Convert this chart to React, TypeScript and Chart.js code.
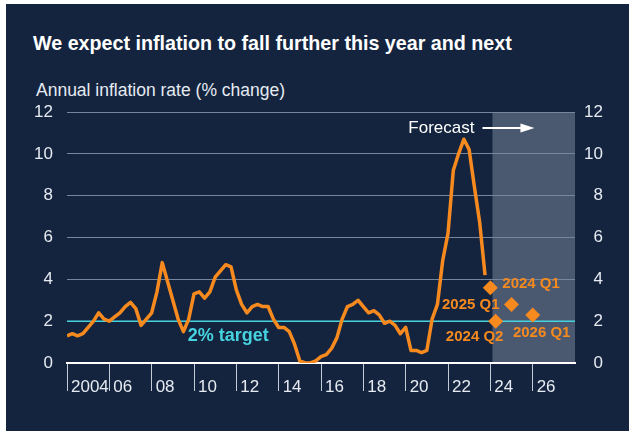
import React, { useEffect, useRef } from 'react';
import { Chart, registerables } from 'chart.js';

Chart.register(...registerables);

// ---------- data ----------
const START_YEAR = 2004; // first quarter of the series: 2004 Q1
const CPI = [
  1.3, 1.4, 1.3, 1.4,
  1.7, 2.0, 2.4, 2.1,
  2.0, 2.2, 2.4, 2.7,
  2.9, 2.6, 1.8, 2.1,
  2.4, 3.4, 4.8, 3.9,
  3.0, 2.1, 1.5, 2.1,
  3.3, 3.4, 3.1, 3.4,
  4.1, 4.4, 4.7, 4.6,
  3.5, 2.8, 2.4, 2.7,
  2.8, 2.7, 2.7, 2.1,
  1.7, 1.7, 1.5, 0.9,
  0.1, 0.0, 0.0, 0.1,
  0.3, 0.4, 0.7, 1.2,
  2.1, 2.7, 2.8, 3.0,
  2.7, 2.4, 2.5, 2.3,
  1.9, 2.0, 1.8, 1.4,
  1.7, 0.6, 0.6, 0.5,
  0.6, 2.1, 2.8, 4.9,
  6.2, 9.2, 10.0, 10.7,
  10.2, 8.4, 6.7, 4.2,
];
const FORECAST_LABELS = ['2024 Q1', '2024 Q2', '2025 Q1', '2026 Q1'];
const FORECAST_X = [2024.0, 2024.25, 2025.0, 2026.0];
const FORECAST_VALUES = [3.6, 2.0, 2.8, 2.3];
const TARGET = 2;
const TARGET_LABEL = '2% target';
const FORECAST_TEXT = 'Forecast';
const FORECAST_START = 2024.1;
const X_MIN = 2004;
const X_MAX = 2028;
const X_TICK_YEARS = [2004, 2006, 2008, 2010, 2012, 2014, 2016, 2018, 2020, 2022, 2024, 2026];
const X_TICK_LABELS = ['2004', '06', '08', '10', '12', '14', '16', '18', '20', '22', '24', '26'];
const Y_MIN = 0;
const Y_MAX = 12;
const Y_STEP = 2;
const TITLE = 'We expect inflation to fall further this year and next';
const SUBTITLE = 'Annual inflation rate (% change)';

// ---------- style ----------
const NAVY = '#14243e';
const SHADE = '#4a5970';
const GRID = '#76869d';
const ORANGE = '#f68a1f';
const CYAN = '#46d3df';
const TEXT = '#e6ebf2';
const FONT = '"Liberation Sans", Arial, Helvetica, sans-serif';

// label offsets (px) relative to each forecast diamond
const LABEL_LAYOUT = [
  { dx: 12, dy: -4, align: 'left' },
  { dx: -21, dy: 16, align: 'center' },
  { dx: -12, dy: 0, align: 'right' },
  { dx: 9, dy: 18, align: 'center' },
];

export default function App() {
  const ref = useRef<HTMLCanvasElement>(null);

  useEffect(() => {
    const canvas = ref.current;
    if (!canvas) return;

    const lineData = CPI.map((v, i) => ({ x: START_YEAR + i / 4, y: v }));
    const fcData = FORECAST_X.map((x, i) => ({ x, y: FORECAST_VALUES[i] }));
    const targetData = [
      { x: X_MIN, y: TARGET },
      { x: X_MAX, y: TARGET },
    ];

    const annotations = {
      id: 'annotations',
      beforeDraw(chart: any) {
        const { ctx, chartArea, scales } = chart;
        const x0 = scales.x.getPixelForValue(FORECAST_START);
        ctx.save();
        ctx.fillStyle = SHADE;
        ctx.fillRect(x0, chartArea.top, chartArea.right - x0, chartArea.bottom - chartArea.top);
        ctx.restore();
      },
      afterDatasetsDraw(chart: any) {
        const { ctx, chartArea, scales } = chart;
        const xs = scales.x;
        const ys = scales.y;
        ctx.save();
        // Forecast text + arrow
        const x0 = xs.getPixelForValue(FORECAST_START);
        const fy = chartArea.top + 16;
        ctx.font = `17px ${FONT}`;
        ctx.fillStyle = '#ffffff';
        ctx.textAlign = 'right';
        ctx.textBaseline = 'middle';
        ctx.fillText(FORECAST_TEXT, x0 - 18, fy);
        ctx.strokeStyle = '#ffffff';
        ctx.lineWidth = 2;
        ctx.beginPath();
        ctx.moveTo(x0 - 10, fy);
        ctx.lineTo(x0 + 32, fy);
        ctx.stroke();
        ctx.beginPath();
        ctx.moveTo(x0 + 42, fy);
        ctx.lineTo(x0 + 28, fy - 4.5);
        ctx.lineTo(x0 + 28, fy + 4.5);
        ctx.closePath();
        ctx.fillStyle = '#ffffff';
        ctx.fill();

        // 2% target
        ctx.font = `bold 18px ${FONT}`;
        ctx.fillStyle = CYAN;
        ctx.textAlign = 'left';
        ctx.fillText(TARGET_LABEL, xs.getPixelForValue(2009.7), ys.getPixelForValue(TARGET) + 15);

        // forecast labels
        ctx.font = `bold 15px ${FONT}`;
        ctx.fillStyle = ORANGE;
        FORECAST_LABELS.forEach((lab, i) => {
          const px = xs.getPixelForValue(FORECAST_X[i]);
          const py = ys.getPixelForValue(FORECAST_VALUES[i]);
          const l = LABEL_LAYOUT[i];
          ctx.textAlign = l.align;
          ctx.fillText(lab, px + l.dx, py + l.dy);
        });
        ctx.restore();
      },
    };

    const chart = new Chart(canvas, {
      type: 'line',
      data: {
        datasets: [
          {
            data: fcData,
            showLine: false,
            pointStyle: 'rectRot',
            pointRadius: 7.5,
            pointBorderWidth: 0,
            pointBackgroundColor: ORANGE,
            pointBorderColor: ORANGE,
            order: 0,
          },
          {
            data: lineData,
            borderColor: ORANGE,
            borderWidth: 3.5,
            pointRadius: 0,
            tension: 0,
            borderJoinStyle: 'round',
            order: 1,
          },
          {
            data: targetData,
            borderColor: CYAN,
            borderWidth: 1.5,
            pointRadius: 0,
            order: 2,
          },
        ],
      },
      options: {
        animation: false,
        responsive: false,
        events: [],
        layout: { padding: { top: 112, left: 0, right: 31, bottom: 30 } },
        plugins: { legend: { display: false }, tooltip: { enabled: false }, title: { display: false } },
        scales: {
          x: {
            type: 'linear',
            min: X_MIN,
            max: X_MAX,
            afterBuildTicks: (scale: any) => {
              scale.ticks = X_TICK_YEARS.map((v) => ({ value: v }));
            },
            afterFit: (scale: any) => {
              scale.height = 40;
            },
            grid: {
              drawOnChartArea: false,
              drawTicks: true,
              tickLength: 28,
              tickColor: '#c3cbd7',
              tickWidth: 1,
            },
            border: { display: true, color: '#ffffff', width: 2 },
            ticks: {
              autoSkip: false,
              maxRotation: 0,
              align: 'start',
              labelOffset: 4,
              padding: -14,
              color: TEXT,
              font: { family: FONT, size: 17 },
              callback: (value: any) => {
                const i = X_TICK_YEARS.indexOf(Number(value));
                return i >= 0 ? X_TICK_LABELS[i] : '';
              },
            },
          },
          y: {
            position: 'left',
            min: Y_MIN,
            max: Y_MAX,
            afterFit: (scale: any) => {
              scale.width = 67;
            },
            grid: {
              drawTicks: false,
              color: (c: any) => (c.tick && c.tick.value === 0 ? 'rgba(0,0,0,0)' : GRID),
              lineWidth: 1,
            },
            border: { display: false },
            ticks: {
              stepSize: Y_STEP,
              padding: 14,
              color: TEXT,
              font: { family: FONT, size: 17 },
            },
          },
          y2: {
            position: 'right',
            min: Y_MIN,
            max: Y_MAX,
            afterFit: (scale: any) => {
              scale.width = 28;
            },
            grid: { display: false, drawTicks: false },
            border: { display: false },
            ticks: {
              stepSize: Y_STEP,
              crossAlign: 'far',
              color: TEXT,
              font: { family: FONT, size: 17 },
            },
          },
        },
      },
      plugins: [annotations],
    } as any);

    return () => chart.destroy();
  }, []);

  return (
    <div style={{ position: 'fixed', left: 0, top: 0, width: 634, height: 433, background: '#ffffff' }}>
      <div style={{ position: 'absolute', left: 6, top: 4, width: 623, height: 427, background: NAVY }} />
      <div
        style={{
          position: 'absolute',
          left: 33,
          top: 33,
          fontFamily: FONT,
          fontWeight: 'bold',
          fontSize: 19.7,
          lineHeight: '20px',
          color: '#ffffff',
          whiteSpace: 'nowrap',
        }}
      >
        {TITLE}
      </div>
      <div
        style={{
          position: 'absolute',
          left: 36,
          top: 82,
          fontFamily: FONT,
          fontSize: 17.5,
          lineHeight: '17px',
          color: TEXT,
          whiteSpace: 'nowrap',
        }}
      >
        {SUBTITLE}
      </div>
      <canvas ref={ref} width={634} height={433} style={{ position: 'absolute', left: 0, top: 0 }} />
    </div>
  );
}
